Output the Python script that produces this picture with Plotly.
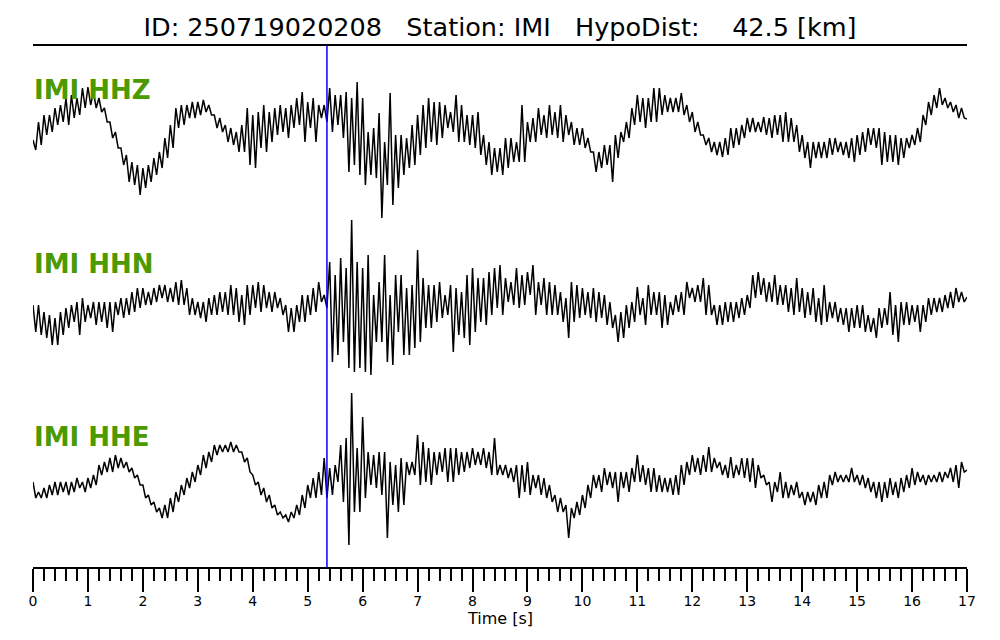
import numpy as np
import plotly.graph_objects as go

# ---- data (amplitudes, arbitrary units, positive up) ----
sample_interval = 0.05  # s
pick_time = 5.35        # s (blue marker)

title_text = ("ID: 250719020208\u00a0\u00a0\u00a0Station: IMI\u00a0\u00a0\u00a0"
              "HypoDist:\u00a0\u00a0\u00a0\u00a042.5 [km]")
channel_labels = ["IMI HHZ", "IMI HHN", "IMI HHE"]
tick_values = list(range(0, 18))

hhz_counts = [
    -5, -15, 13, -10, 20, 0, 20, 3, 27, 10, 30, 13, 37, 10, 40, 17, 37, 20, 47, 27,
    48, 30, 43, 27, 37, 23, 27, 13, 13, -3, 3, -13, -13, -30, -20, -47, -27, -50, -30, -60,
    -33, -53, -30, -47, -23, -40, -17, -33, -3, -23, 10, -13, 27, 7, 30, 10, 30, 17, 33, 17,
    33, 20, 35, 23, 30, 20, 20, 7, 17, 3, 10, -7, 7, -10, 3, -17, 10, -17, 27, -30,
    20, -33, 23, -13, 30, -17, 23, -7, 27, 0, 30, 3, 27, -3, 30, 7, 37, 10, 43, -7,
    33, 7, 37, -7, 30, 17, 30, 13, 47, 3, 40, 10, 40, -3, 43, -37, 37, -30, 53, -40,
    37, -50, 3, -40, 7, -43, 22, -83, -7, -50, 42, -70, 0, -53, 0, -40, -3, -33, 10, -30,
    20, -20, 30, -13, 37, -7, 33, -10, 33, -3, 30, 7, 23, 3, 40, -7, 30, -7, 20, -10,
    20, -13, 23, -20, 0, -30, -7, -40, -13, -37, -13, -40, -3, -33, -3, -27, -7, -27, 30, -27,
    13, -7, 17, -7, 27, 0, 20, -3, 30, 0, 23, -3, 30, -7, 20, 0, 13, -10, 7, -10,
    7, -13, -3, -17, -17, -37, -17, -33, -10, -30, -10, -47, 0, -23, 3, -7, 13, -3, 27, 10,
    40, 13, 37, 7, 37, 13, 47, 13, 47, 20, 40, 23, 37, 23, 37, 23, 42, 20, 30, 13,
    23, 3, 13, 0, 0, -10, -3, -17, -7, -20, -7, -22, -3, -20, 7, -13, 7, -10, 10, -3,
    17, 3, 17, 3, 13, 3, 18, 0, 17, -3, 20, 0, 20, -7, 23, -7, 17, -7, 10, -17,
    0, -23, -7, -33, -7, -23, -7, -23, -7, -23, -3, -20, -3, -17, -7, -20, -7, -23, -3, -27,
    0, -20, 3, -17, 7, -10, 7, -13, 7, -30, 3, -27, 0, -27, 0, -30, -3, -23, -3, -13,
    0, -10, 7, -7, 20, 10, 33, 20, 40, 27, 47, 30, 37, 27, 33, 23, 30, 17, 27, 17,
    16,
]

hhn_counts = [
    0, -27, 0, -30, -7, -33, -10, -40, -13, -40, -7, -30, -3, -23, 0, -17, 3, -30, 7, -17,
    0, -13, 3, -20, 3, -17, 3, -23, 3, -27, 3, -10, 7, -13, 7, -10, 13, -7, 17, -3,
    17, 0, 13, 0, 17, 3, 20, 7, 20, 3, 17, 3, 23, 0, 25, 0, 17, -10, 7, -10,
    3, -13, 3, -17, 7, -10, 10, -10, 13, -7, 13, -10, 20, -10, 17, -17, 10, -20, 20, -10,
    20, -3, 23, -7, 20, -3, 13, -7, 13, -3, 7, -10, 0, -27, -3, -27, 0, -17, 10, -17,
    10, -10, 17, -7, 23, 3, 10, -3, 43, -57, 30, -50, 47, -37, 37, -63, 85, -67, 43, -63,
    37, -67, 50, -70, 10, -37, 23, -37, 50, -57, 10, -60, 30, -27, 30, -50, 17, -50, 20, -43,
    55, -37, 27, -23, 20, -23, 20, -17, 23, -13, 10, -10, 20, -47, 17, -30, 13, -33, 30, -40,
    37, -27, 27, -17, 27, -20, 33, -10, 37, -3, 40, -10, 27, 3, 23, 0, 37, -3, 30, 0,
    33, 10, 40, -10, 23, 0, 27, -10, 23, -10, 20, -10, 13, -17, 7, -33, 23, -17, 20, -13,
    17, -10, 13, -13, 17, -17, 13, -13, 10, -20, 3, -23, -10, -37, -7, -33, 0, -23, 3, -17,
    18, -10, 7, -20, 20, -10, 13, -10, 13, -23, 10, -20, 3, -10, 10, -7, 13, -10, 23, 7,
    17, 3, 20, 3, 27, -10, 20, -10, 0, -20, 0, -20, 3, -17, 3, -17, 3, -13, 7, -10,
    10, -3, 30, 7, 33, 10, 27, 3, 23, 3, 30, 0, 20, 0, 20, -7, 17, -10, 27, -7,
    17, -13, 13, -10, 17, -17, 7, -20, 20, -17, 3, -13, 3, -17, -3, -20, -3, -27, -3, -23,
    0, -23, 0, -27, -10, -27, -13, -33, -3, -23, -3, -20, 13, -30, 0, -37, 3, -20, 3, -20,
    0, -17, 0, -27, 0, -17, 7, -10, 7, -7, 7, -7, 10, -3, 13, -3, 17, 3, 13, 3,
    8,
]

hhe_counts = [
    -7, -23, -17, -23, -13, -23, -10, -20, -7, -20, -7, -17, -7, -20, -7, -17, -3, -13, -7, -17,
    -3, -13, 0, -10, 10, 0, 13, 3, 17, 3, 20, 7, 17, 7, 13, 3, 7, -3, 0, -10,
    -10, -23, -20, -30, -27, -37, -33, -43, -30, -43, -23, -37, -17, -27, -10, -20, -3, -13, 3, -7,
    10, 0, 20, 7, 23, 13, 30, 20, 30, 23, 30, 23, 33, 23, 30, 23, 23, 13, 17, 3,
    0, -10, -7, -20, -13, -27, -20, -33, -30, -40, -37, -43, -40, -47, -37, -43, -30, -40, -20, -33,
    -10, -23, -3, -23, 3, -20, 17, -23, 7, -20, 10, -7, 30, -27, 37, -70, 82, -37, 27, -37,
    58, -23, 23, -10, 20, -13, 23, -20, 23, -63, 13, -30, 10, -37, 17, -30, 13, 0, 13, 0,
    40, -10, 33, -7, 27, -10, 23, 0, 23, 3, 27, -7, 27, -7, 27, 0, 23, 3, 23, 7,
    27, 10, 23, 10, 27, 7, 23, 0, 37, 0, 10, 0, 10, -3, 7, -7, 10, -23, 10, -17,
    13, -20, 0, -13, 0, -20, -3, -23, -10, -27, -20, -37, -23, -37, -30, -63, -33, -43, -27, -40,
    -20, -33, -10, -23, 0, -13, 0, -17, 7, -10, 3, -13, 3, -27, 3, -13, 3, -17, 7, -7,
    20, -7, 10, -10, 7, -17, 7, -17, 0, -17, -3, -17, -3, -20, 0, -20, 10, -10, 13, 0,
    20, 3, 17, 0, 20, 3, 28, 3, 17, 7, 13, 0, 10, -3, 18, -3, 10, 0, 17, -3,
    17, -7, 17, -13, 10, -3, 0, -10, -7, -27, -7, -17, 3, -23, -7, -23, -10, -20, -7, -23,
    -17, -30, -17, -27, -17, -30, -10, -23, -7, -23, 0, -10, 3, -7, 0, -7, 0, -7, 7, -7,
    0, -10, 0, -13, -3, -17, -7, -23, -7, -27, -7, -23, -3, -20, -7, -23, -3, -17, 0, -13,
    7, -10, 3, -7, 0, -10, 0, -7, 0, -7, 3, -7, 3, -3, 7, -7, 10, -13, 13, 3,
    5,
]

# ---- layout constants ----
# the page body adds an 8 px margin, so the figure is drawn 8 px smaller/shifted
PAGE_OFF = 8
W, H = 1000 - PAGE_OFF, 640 - PAGE_OFF
M_L, M_R = 33 - PAGE_OFF, 1000 - 967 - PAGE_OFF + PAGE_OFF   # plot spans page x 33..967
M_T, M_B = 46 - PAGE_OFF, 640 - 567                           # plot spans page y 46..567
PLOT_H = H - M_T - M_B
trace_offsets = [432, 262, 92]          # vertical baseline of each channel (y-axis units)
label_y_px = [90, 264, 437]             # label centres (page pixels)
GREEN = "#4a9a00"


def page_y_to_paper(ypx):
    return (567 - ypx) / PLOT_H


traces = [hhz_counts, hhn_counts, hhe_counts]

fig = go.Figure()
for counts, off in zip(traces, trace_offsets):
    vals = np.asarray(counts, dtype=float)
    t = np.arange(len(vals)) * sample_interval
    fig.add_trace(go.Scatter(x=t, y=vals + off, mode="lines",
                             line=dict(color="black", width=1.5),
                             hoverinfo="skip", showlegend=False))

# pick marker
fig.add_shape(type="line", xref="x", yref="paper", x0=pick_time, x1=pick_time,
              y0=0, y1=1, line=dict(color="#0000ff", width=1.5), layer="above")

for lab, ypx in zip(channel_labels, label_y_px):
    fig.add_annotation(text="<b>" + lab + "</b>", xref="paper", yref="paper",
                       x=0, y=page_y_to_paper(ypx), xanchor="left", yanchor="middle",
                       showarrow=False, xshift=-1,
                       font=dict(family="DejaVu Sans", size=26, color=GREEN))

fig.add_annotation(text="Time [s]", xref="paper", yref="paper", x=0.5,
                   y=page_y_to_paper(618), xanchor="center", yanchor="middle",
                   showarrow=False, font=dict(family="DejaVu Sans", size=16, color="black"))

fig.update_layout(
    width=W, height=H,
    margin=dict(l=M_L, r=M_R, t=M_T, b=M_B, pad=0),
    paper_bgcolor="white", plot_bgcolor="white",
    font=dict(family="DejaVu Sans", color="black"),
    title=dict(text=title_text, x=0.5, xanchor="center", xref="paper",
               y=1 - (27 - PAGE_OFF) / H, yanchor="middle", yref="container",
               font=dict(family="DejaVu Sans", size=25.5, color="black")),
    xaxis=dict(range=[0, 17], tickmode="array", tickvals=tick_values,
               ticktext=[str(v) for v in tick_values],
               ticks="outside", ticklen=23, tickwidth=2, tickcolor="black",
               ticklabelstandoff=-3,
               showline=True, linecolor="black", linewidth=1.6, mirror=True,
               showgrid=False, zeroline=False,
               tickfont=dict(family="DejaVu Sans", size=14, color="black"),
               minor=dict(dtick=0.2, tick0=0, ticks="outside", ticklen=12,
                          tickwidth=2, tickcolor="black", showgrid=False)),
    yaxis=dict(range=[0, PLOT_H], visible=False, fixedrange=True),
    showlegend=False,
)

fig.write_html("out.html")
